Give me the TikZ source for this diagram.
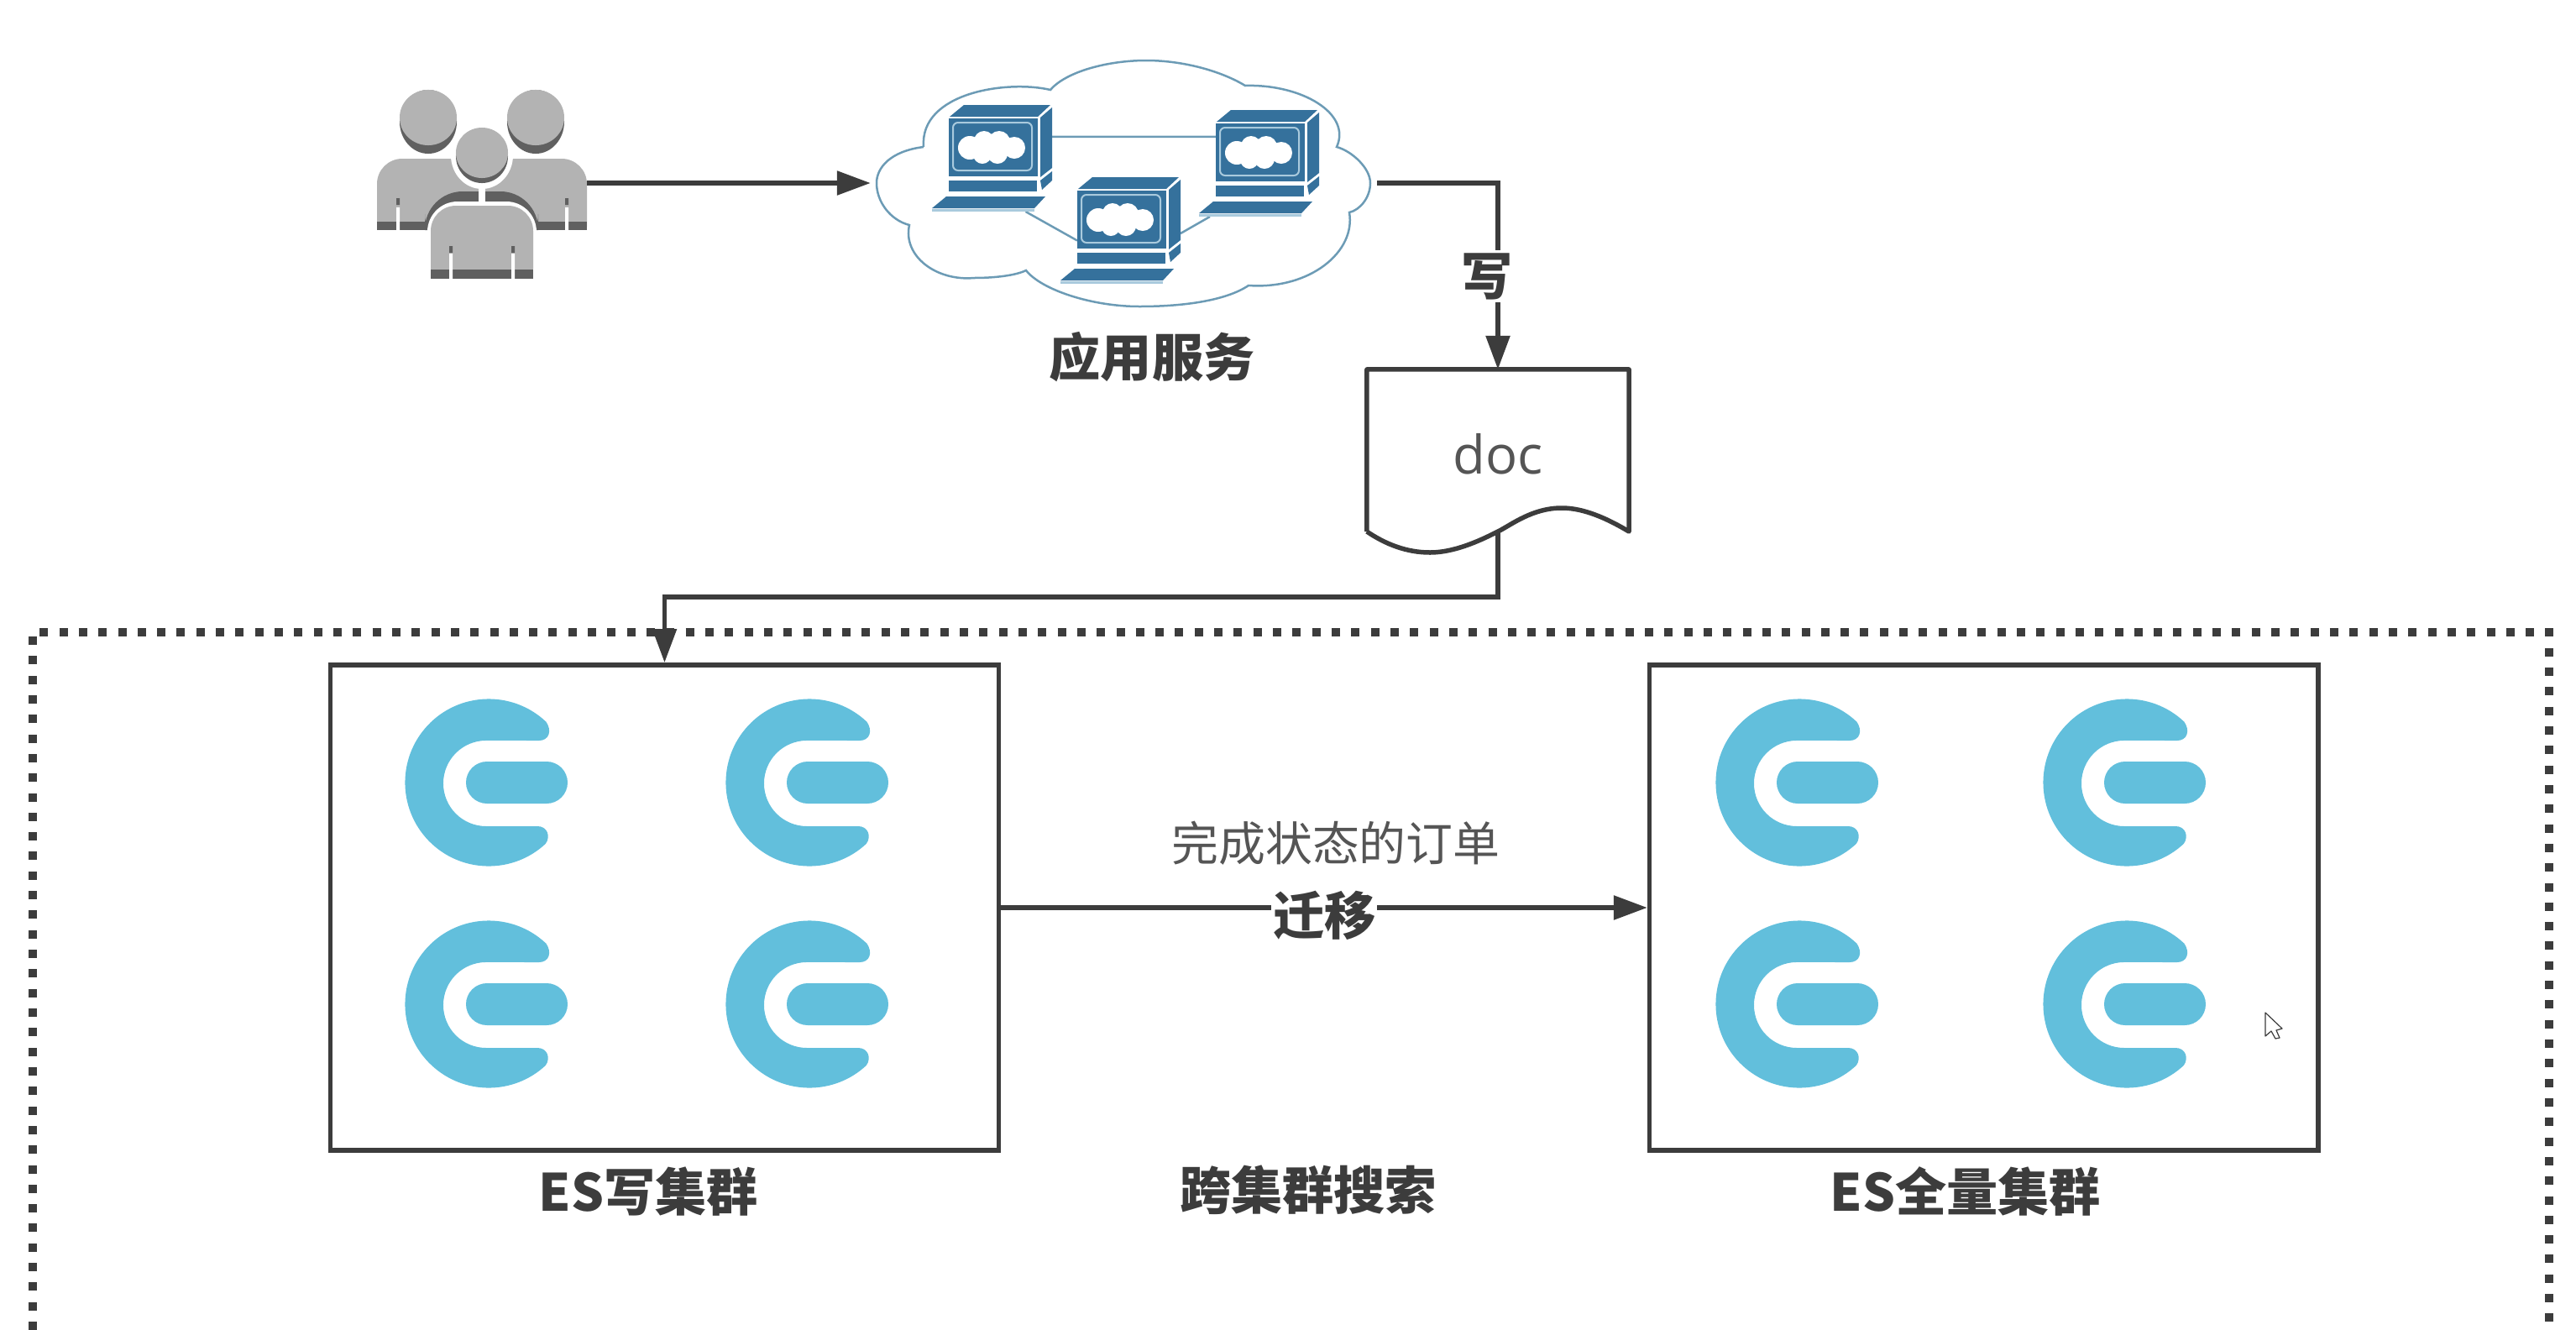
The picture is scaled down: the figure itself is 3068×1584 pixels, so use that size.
\documentclass[tikz,border=0pt]{standalone}
\usepackage{fontspec}
\setmainfont{Noto Sans CJK SC}
\newfontfamily\docfont{Open Sans}
\usetikzlibrary{positioning,arrows.meta}

\definecolor{ink}{HTML}{3C3C3C}
\definecolor{softink}{HTML}{555555}
\definecolor{esblue}{HTML}{62BFDC}
\definecolor{pcblue}{HTML}{35719C}
\definecolor{pclight}{HTML}{A9CADD}
\definecolor{cloudline}{HTML}{6C9BB5}
\definecolor{usergray}{HTML}{B3B3B3}
\definecolor{userdark}{HTML}{606060}

\tikzset{
    esnode/.pic = {
        \fill[esblue] (47:.995cm) arc[start angle=47, end angle=313, radius=.995cm]
            .. controls (74,-64) and (70,-52) .. (58,-52) -- (-3,-52)
            arc[start angle=270, end angle=90, radius=.51cm] -- (60,50)
            .. controls (72,50) and (76,62) .. (68,73) -- cycle;
        \fill[esblue, rounded corners=.25cm] (-27,-25) rectangle (94,25);
    },
    pc/.pic = {
        \begin{scope}[shift={(-51.5,49.5)}]
            \fill[pcblue] (1,0) -- (18,14) -- (121,14) -- (106,0) -- cycle;
            \fill[pcblue] (0,-2) rectangle (106,-71);
            \fill[pcblue] (109,-1) -- (123,11) -- (123,-61) -- (109,-72) -- cycle;
            \fill[pcblue] (109,-76) -- (123,-65) -- (123,-76) -- (111,-87) -- cycle;
            \fill[pcblue] (0,-76) rectangle (105,-89);
            \fill[pcblue] (-3,-95) -- (115,-95) -- (102,-109) -- (-20,-109) -- cycle;
            \fill[pclight] (-20,-110) rectangle (102,-113);
            \draw[pclight, line width=.02cm, rounded corners=.06cm] (5,-7) rectangle (99,-64);
            \fill[white] (25,-37) circle[radius=.14cm] (42,-29) circle[radius=.12cm]
                (60,-30) circle[radius=.13cm] (78,-37) circle[radius=.13cm]
                (58,-44) circle[radius=.12cm] (40,-45) circle[radius=.11cm];
        \end{scope}
    }
}

\begin{document}
\begin{tikzpicture}[x=.01cm, y=.01cm,
        cluster/.style = {
            draw=ink,
            line width=.055cm,
            minimum width=7.96cm,
            minimum height=5.78cm
        },
        hidden/.style = {
            inner sep=0pt,
            outer sep=0pt
        },
        pcbox/.style = {
            hidden,
            minimum width=1.43cm,
            minimum height=1.27cm
        },
        tag/.style = {
            inner sep=0pt,
            text=ink,
            font=\bfseries\fontsize{17.4}{20}\selectfont
        },
        arrow/.style = {
            draw=ink,
            line width=.055cm,
            -{Triangle[length=.4cm,width=.28cm]}
        },
        pcline/.style = {
            draw=cloudline,
            line width=.025cm
        }]

    \useasboundingbox (0,0) rectangle (3068,-1584);

    \node[hidden, minimum width=2.5cm, minimum height=2.99cm] (u) at (574,-256.5) {};
    \node[hidden, minimum width=6.03cm, minimum height=2.93cm] (c) at (1338.5,-218) {};
    \node[hidden, minimum width=3.12cm, minimum height=1.93cm] (d) at (1784,-536.5) {};
    \node[inner sep=0pt, text=softink, font=\docfont\fontsize{18}{20}\selectfont, yshift=-.04cm] (da) at (d) {doc};
    \node[cluster] (w) at (791.5,-1081) {};
    \node[cluster, right=7.69cm of w] (f) {};

    \node[tag, below=.3cm of c, xshift=.335cm] (ca) {应用服务};
    \node[tag, below=.16cm of w, xshift=-.19cm] (wa) {ES写集群};
    \node[tag, below=.16cm of f, xshift=-.22cm] (fa) {ES全量集群};
    \node[tag] (k) at (1558,-1417) {跨集群搜索};
    \node[inner sep=0pt, text=softink, font=\fontsize{15.9}{18}\selectfont] (t) at (1591,-1004) {完成状态的订单};

    % dotted frame, open at the bottom of the page
    \coordinate (fa1) at (39,-1584);
    \coordinate (fa2) at (39,-753);
    \coordinate (fa3) at (3036,-753);
    \coordinate (fa4) at (3036,-1584);
    \draw[draw=ink, line width=.1cm, dash pattern=on .1cm off .133cm] (fa1) -- (fa2) -- (fa3) -- (fa4);

    % users
    \fill[userdark] (510,-145) ellipse[x radius=.34cm, y radius=.38cm];
    \fill[userdark] (638,-145) ellipse[x radius=.34cm, y radius=.38cm];
    \fill[usergray] (510,-140) ellipse[x radius=.34cm, y radius=.33cm];
    \fill[usergray] (638,-140) ellipse[x radius=.34cm, y radius=.33cm];
    \fill[usergray, rounded corners=.3cm] (449,-300) -- (449,-189) -- (699,-189) -- (699,-300) -- cycle;
    \fill[white] (440,-274) rectangle (710,-310);
    \fill[userdark] (449,-264) rectangle (699,-274);
    \fill[white] (472,-247) rectangle (476,-275) (673,-247) rectangle (677,-275);
    \fill[userdark] (472,-236) rectangle (476,-244) (673,-236) rectangle (677,-244);
    \fill[userdark, rounded corners=.45cm] (506,-300) -- (506,-228) -- (641,-228) -- (641,-300) -- cycle;
    \fill[white] (500,-274) rectangle (650,-310);
    \fill[userdark] (506,-264) rectangle (510,-274) (637,-264) rectangle (641,-274);
    \fill[white, rounded corners=.36cm] (509,-340) -- (509,-240) -- (639,-240) -- (639,-340) -- cycle;
    \fill[white] (570,-200) rectangle (578,-245);
    \fill[white] (574,-185) ellipse[x radius=.37cm, y radius=.40cm];
    \fill[userdark] (574,-186) ellipse[x radius=.31cm, y radius=.32cm];
    \fill[usergray] (574,-182) ellipse[x radius=.31cm, y radius=.30cm];
    \fill[usergray, rounded corners=.3cm] (513,-350) -- (513,-245) -- (635,-245) -- (635,-350) -- cycle;
    \fill[white] (505,-332) rectangle (645,-360);
    \fill[userdark] (513,-321) rectangle (635,-332);
    \fill[white] (535,-302) rectangle (539,-333) (609,-302) rectangle (613,-333);
    \fill[userdark] (535,-293) rectangle (539,-301) (609,-293) rectangle (613,-301);

    % cloud
    \draw[draw=cloudline, line width=.025cm] (1100,-175)
        .. controls (1060,-180) and (1044,-200) .. (1044,-218)
        .. controls (1044,-240) and (1060,-262) .. (1083,-268)
        .. controls (1075,-305) and (1115,-335) .. (1160,-331)
        .. controls (1185,-331) and (1210,-328) .. (1222,-322)
        .. controls (1240,-345) and (1300,-365) .. (1357,-365)
        .. controls (1410,-365) and (1460,-358) .. (1487,-340)
        .. controls (1560,-345) and (1615,-300) .. (1607,-253)
        .. controls (1620,-250) and (1632,-235) .. (1632,-218)
        .. controls (1632,-200) and (1610,-180) .. (1592,-175)
        .. controls (1610,-135) and (1550,-100) .. (1483,-102)
        .. controls (1455,-85) and (1410,-72) .. (1365,-72)
        .. controls (1320,-72) and (1270,-85) .. (1251,-107)
        .. controls (1200,-95) and (1095,-110) .. (1100,-175);

    \node[pcbox] (pa) at (1181.5,-188.5) {};
    \node[pcbox] (pb) at (1499.5,-194.5) {};
    \node[pcbox] (pc) at (1334.5,-274.5) {};
    \draw[pcline] ([yshift=.255cm]pa.east) -- ([xshift=.2cm,yshift=.315cm]pb.west);
    \draw[pcline] ([xshift=.4cm]pa.south) -- ([xshift=.2cm,yshift=-.12cm]pc.west);
    \draw[pcline] ([yshift=-.035cm]pc.east) -- ([xshift=.13cm]pb.south west);
    \foreach \n in {pa,pb,pc} {
        \pic at (\n.center) {pc};
    }

    % document
    \draw[draw=ink, line width=.055cm, line join=round] (d.south west) -- (d.north west) -- (d.north east) -- (d.south east)
        .. controls (1905,-612) and (1880,-605) .. (1860,-605)
        .. controls (1825,-605) and (1800,-625) .. (d.south)
        .. controls (1768,-641) and (1735,-658) .. (1703,-658)
        .. controls (1675,-658) and (1650,-648) .. (d.south west);

    % elasticsearch nodes
    \foreach \x in {582,964,2143,2533} {
        \foreach \y in {-932,-1196} {
            \pic at (\x,\y) {esnode};
        }
    }

    \draw[arrow] (u.east |- c.west) -- (c.west);
    \draw[arrow] (c.east) -| (d.north)
        node[pos=.75, fill=white, tag, xshift=-.13cm, inner ysep=.03cm] {写};
    \draw[arrow] (d.south) -- ++(0,-78) -| (w.north);
    \draw[arrow] (w.east) -- (f.west)
        node[midway, fill=white, tag, yshift=-.09cm, inner xsep=.02cm] {迁移};

    % mouse pointer
    \coordinate (m) at (2698,-1206);
    \draw[draw=ink, line width=.012cm, line join=round] (m) -- ++(0,-28) -- ++(7,6) -- ++(5,-9) -- ++(5,1) -- ++(-4,9) -- ++(7,2) -- cycle;
\end{tikzpicture}
\end{document}
